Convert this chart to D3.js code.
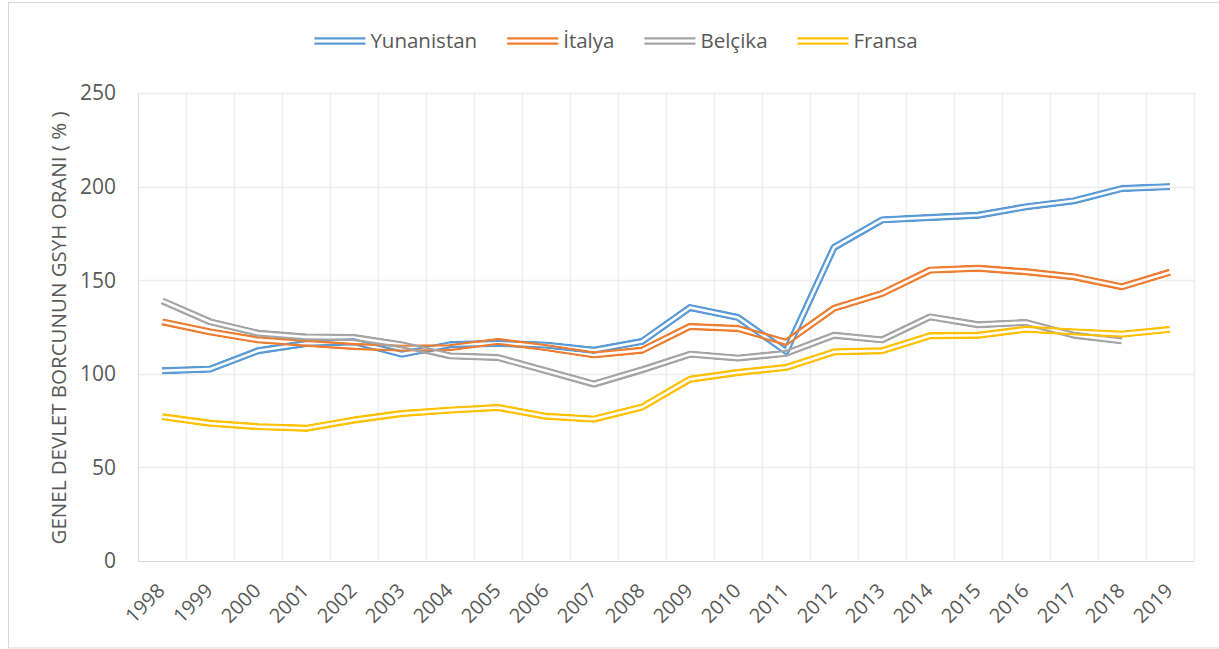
<!DOCTYPE html>
<html>
<head>
<meta charset="utf-8">
<script src="https://cdnjs.cloudflare.com/ajax/libs/d3/7.8.5/d3.min.js"></script>
<style>
    body { margin: 0; background: #fff; }
    text { font-family: "Open Sans", sans-serif; fill: #595959; }
</style>
</head>
<body>
<div id="chart"></div>
<script>
var years = ["1998", "1999", "2000", "2001", "2002", "2003", "2004", "2005", "2006", "2007", "2008",
    "2009", "2010", "2011", "2012", "2013", "2014", "2015", "2016", "2017", "2018", "2019"];

var yunanistan = [101.6, 102.5, 112.3, 116.2, 117.1, 110.5, 115.5, 116.3, 115.3, 112.6, 117.3,
    135.4, 130.1, 112.0, 167.5, 182.2, 183.5, 184.7, 189.2, 192.4, 199.0, 200.0];
var italya = [127.8, 122.4, 118.1, 116.3, 114.6, 113.7, 114.0, 117.3, 114.0, 110.1, 112.6,
    125.3, 124.2, 116.8, 135.0, 142.9, 155.4, 156.4, 154.5, 151.8, 146.5, 154.3];
var belcika = [139.0, 127.8, 121.7, 119.7, 119.4, 115.5, 109.6, 108.7, 101.6, 94.5, 102.1,
    110.5, 108.4, 110.9, 120.6, 118.1, 130.4, 126.2, 127.4, 120.6, 117.6, null];
var fransa = [77.1, 73.6, 71.8, 70.9, 75.3, 78.8, 80.6, 82.0, 77.3, 75.8, 82.2,
    97.1, 100.7, 103.4, 111.7, 112.3, 120.3, 120.6, 123.8, 122.4, 121.2, 123.7];

var seriesNames = ["Yunanistan", "İtalya", "Belçika", "Fransa"];
var seriesValues = [yunanistan, italya, belcika, fransa];
var colors = ["#5B9BD5", "#ED7D31", "#A5A5A5", "#FFC000"];
var yTicks = [0, 50, 100, 150, 200, 250];

var width = 1219,
    height = 649;

var svg = d3.select("#chart")
    .append("svg")
    .attr("width", width)
    .attr("height", height)

svg.append("rect")
    .attr("x", 8.5)
    .attr("y", 2.5)
    .attr("width", width)
    .attr("height", 645.5)
    .attr("fill", "#fff")
    .attr("stroke", "#d9d9d9")

var x = d3.scaleBand().domain(years).range([138, 1194]).padding(0)
var y = d3.scaleLinear().domain([0, 250]).range([561, 93])

// horizontal grid
svg.selectAll(".hgrid")
    .data(yTicks.slice(1))
    .enter().append("line")
    .attr("class", "hgrid")
    .attr("x1", 138)
    .attr("x2", 1194)
    .attr("y1", function (d) { return Math.round(y(d)) + 0.5 })
    .attr("y2", function (d) { return Math.round(y(d)) + 0.5 })
    .attr("stroke", "#ededed")
    .attr("stroke-width", 1.3)

// vertical grid between categories
svg.selectAll(".vgrid")
    .data(years)
    .enter().append("line")
    .attr("class", "vgrid")
    .attr("x1", function (d) { return Math.round(x(d) + x.bandwidth()) + 0.5 })
    .attr("x2", function (d) { return Math.round(x(d) + x.bandwidth()) + 0.5 })
    .attr("y1", y(250))
    .attr("y2", y(0))
    .attr("stroke", "#ededed")
    .attr("stroke-width", 1.3)

// axis lines
svg.append("line")
    .attr("x1", 138.5).attr("x2", 138.5)
    .attr("y1", y(250)).attr("y2", y(0))
    .attr("stroke", "#d9d9d9")
svg.append("line")
    .attr("x1", 138).attr("x2", 1194)
    .attr("y1", Math.round(y(0)) + 0.5).attr("y2", Math.round(y(0)) + 0.5)
    .attr("stroke", "#d9d9d9")

// y tick labels
svg.selectAll(".ylab")
    .data(yTicks)
    .enter().append("text")
    .attr("class", "ylab")
    .attr("x", 116)
    .attr("y", function (d) { return y(d) })
    .attr("dy", "0.35em")
    .attr("text-anchor", "end")
    .style("font-size", "21px")
    .text(function (d) { return d })

// x tick labels
svg.selectAll(".xlab")
    .data(years)
    .enter().append("text")
    .attr("class", "xlab")
    .attr("text-anchor", "end")
    .attr("transform", function (d) {
        return "translate(" + (x(d) + x.bandwidth() / 2 + 4) + ",592) rotate(-45)"
    })
    .style("font-size", "20px")
    .text(function (d) { return d })

// y axis title
svg.append("text")
    .attr("transform", "translate(66,328) rotate(-90)")
    .attr("text-anchor", "middle")
    .style("font-size", "20.5px")
    .text("GENEL DEVLET BORCUNUN GSYH ORANI ( % )")

var line = d3.line()
    .defined(function (d) { return d != null })
    .x(function (d, i) { return x(years[i]) + x.bandwidth() / 2 })
    .y(function (d) { return y(d) })
    .curve(d3.curveLinear)

var defs = svg.append("defs");

// double line: outer stroke with the middle masked out
seriesValues.forEach(function (values, i) {
    var m = defs.append("mask")
        .attr("id", "dbl-" + i)
        .attr("maskUnits", "userSpaceOnUse")
        .attr("x", 0).attr("y", 0)
        .attr("width", width).attr("height", height)
    m.append("path")
        .attr("d", line(values))
        .attr("fill", "none")
        .attr("stroke", "#fff")
        .attr("stroke-width", 7.4)
        .attr("stroke-linejoin", "round")
    m.append("path")
        .attr("d", line(values))
        .attr("fill", "none")
        .attr("stroke", "#000")
        .attr("stroke-width", 2.6)
        .attr("stroke-linejoin", "round")

    svg.append("path")
        .attr("class", "series")
        .attr("d", line(values))
        .attr("fill", "none")
        .attr("stroke", colors[i])
        .attr("stroke-width", 7.4)
        .attr("stroke-linejoin", "round")
        .attr("mask", "url(#dbl-" + i + ")")
})

// legend
var legend = svg.append("g")
var lx = 0
seriesNames.forEach(function (name, i) {
    var g = legend.append("g").attr("transform", "translate(" + lx + ",0)")
    g.append("line")
        .attr("x1", 0).attr("x2", 51)
        .attr("y1", 38.4).attr("y2", 38.4)
        .attr("stroke", colors[i]).attr("stroke-width", 2.3)
    g.append("line")
        .attr("x1", 0).attr("x2", 51)
        .attr("y1", 43.6).attr("y2", 43.6)
        .attr("stroke", colors[i]).attr("stroke-width", 2.3)
    var t = g.append("text")
        .attr("x", 56)
        .attr("y", 41)
        .attr("dy", "0.35em")
        .style("font-size", "20.5px")
        .text(name)
    lx += 56 + t.node().getComputedTextLength() + 30
})
var legendWidth = lx - 30
legend.attr("transform", "translate(" + (616 - legendWidth / 2) + ",0)")
</script>
</body>
</html>
